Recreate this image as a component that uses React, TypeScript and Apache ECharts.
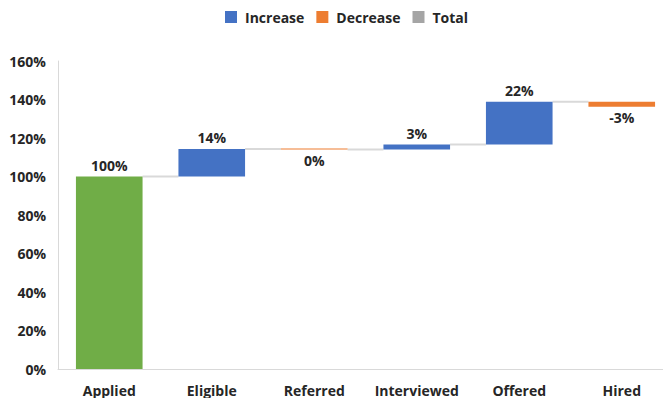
import React, { useEffect, useRef } from "react";
import * as echarts from "echarts";

const categories = ["Applied", "Eligible", "Referred", "Interviewed", "Offered", "Hired"];
const changes = [100, 14.3, -0.3, 2.6, 22.2, -2.6];
const isTotal = [true, false, false, false, false, false];
const yTicks = [0, 20, 40, 60, 80, 100, 120, 140, 160];

const BAR_RATIO = 0.65;

export default function App() {
  const ref = useRef<HTMLDivElement>(null);
  useEffect(() => {
    document.body.style.margin = "0";
    const chart = echarts.init(ref.current!, null, { renderer: "svg" });

    const base: any[] = [];
    const inc: any[] = [];
    const dec: any[] = [];
    const tot: any[] = [];
    const ends: number[] = [];
    let cum = 0;
    changes.forEach((v, i) => {
      if (isTotal[i]) {
        cum = v;
        base.push(0);
        tot.push({ value: v, itemStyle: { color: "#70AD47" } });
        inc.push("-");
        dec.push("-");
      } else if (v >= 0) {
        base.push(cum);
        inc.push(v);
        dec.push("-");
        tot.push("-");
        cum += v;
      } else {
        base.push(cum + v);
        dec.push(-v);
        inc.push("-");
        tot.push("-");
        cum += v;
      }
      ends.push(cum);
    });
    const connectors = ends.slice(0, -1).map((v, i) => [i, v]);
    const fmt = (i: number) => `${Math.round(changes[i]) === 0 ? 0 : Math.round(changes[i])}%`;
    const labelStyle = {
      show: true,
      fontFamily: "Open Sans",
      fontWeight: "bold" as const,
      fontSize: 14,
      color: "#262626",
      distance: 4,
      formatter: (p: any) => fmt(p.dataIndex),
    };

    chart.setOption({
      animation: false,
      legend: {
        top: 5,
        left: 220,
        itemWidth: 12,
        itemHeight: 12,
        itemGap: 12,
        icon: "rect",
        textStyle: {
          fontFamily: "Open Sans",
          fontWeight: "bold",
          fontSize: 14,
          color: "#262626",
          padding: [0, 0, 0, 3],
        },
        data: ["Increase", "Decrease", "Total"],
      },
      grid: { left: 58, top: 61, right: 0, height: 308 },
      xAxis: {
        type: "category",
        data: categories,
        axisLine: { lineStyle: { color: "#D9D9D9", width: 1 } },
        axisTick: { show: false },
        axisLabel: {
          interval: 0,
          margin: 14,
          fontFamily: "Open Sans",
          fontWeight: "bold",
          fontSize: 14,
          color: "#262626",
        },
      },
      yAxis: {
        type: "value",
        min: 0,
        max: 160,
        interval: 20,
        axisLine: { show: true, lineStyle: { color: "#D9D9D9", width: 1 } },
        axisTick: { show: false },
        splitLine: { show: false },
        axisLabel: {
          margin: 12,
          fontFamily: "Open Sans",
          fontWeight: "bold",
          fontSize: 14,
          color: "#262626",
          formatter: (v: number) => (yTicks.includes(v) ? `${v}%` : ""),
        },
      },
      series: [
        {
          name: "base",
          type: "bar",
          stack: "w",
          barWidth: `${BAR_RATIO * 100}%`,
          itemStyle: { color: "transparent" },
          emphasis: { disabled: true },
          data: base,
          silent: true,
        },
        {
          name: "Increase",
          type: "bar",
          stack: "w",
          itemStyle: { color: "#4472C4" },
          label: { ...labelStyle, position: "top" },
          data: inc,
        },
        {
          name: "Decrease",
          type: "bar",
          stack: "w",
          barMinHeight: 1,
          itemStyle: { color: "#ED7D31" },
          label: { ...labelStyle, position: "bottom" },
          data: dec,
        },
        {
          name: "Total",
          type: "bar",
          stack: "w",
          itemStyle: { color: "#A5A5A5" },
          label: { ...labelStyle, position: "top" },
          data: tot,
        },
        {
          name: "connectors",
          type: "custom",
          silent: true,
          data: connectors,
          renderItem: (params: any, api: any) => {
            const i = api.value(0);
            const v = api.value(1);
            const p = api.coord([i, v]);
            const w = api.size([1, 0])[0];
            const half = (w * BAR_RATIO) / 2;
            return {
              type: "line",
              shape: { x1: p[0] + half, y1: p[1], x2: p[0] + w - half, y2: p[1] },
              style: { stroke: "#D9D9D9", lineWidth: 2 },
            };
          },
          z: 1,
        },
      ],
    });
    return () => chart.dispose();
  }, []);
  return (
    <div style={{ width: 663, height: 398, overflow: "hidden" }}>
      <div ref={ref} style={{ width: 673, height: 398 }} />
    </div>
  );
}
